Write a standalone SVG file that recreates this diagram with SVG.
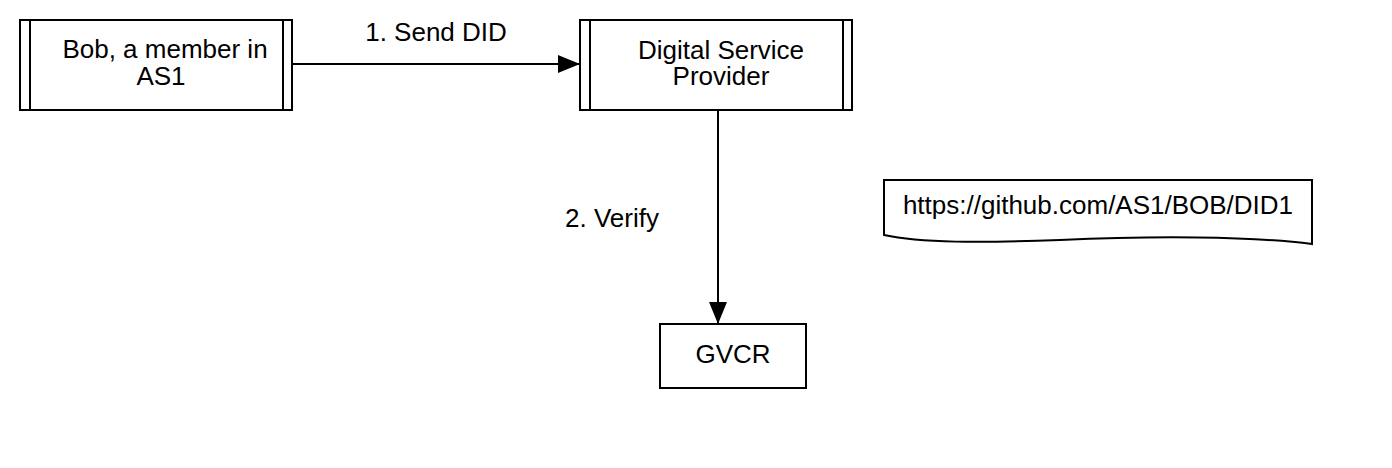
<svg xmlns="http://www.w3.org/2000/svg" width="1392" height="468" viewBox="0 0 1392 468">
<style>
.box{fill:#fff;stroke:#000;stroke-width:2}
.ln{fill:none;stroke:#000;stroke-width:2}
text{font-family:"Liberation Sans",Arial,sans-serif;font-size:26px;fill:#000}
.c{text-anchor:middle}
</style>
<defs>
<marker id="arr" markerWidth="22" markerHeight="20" refX="22" refY="10" orient="auto" markerUnits="userSpaceOnUse">
<path d="M0,1 L22,10 L0,19 Z" fill="#000"/>
</marker>
</defs>
<rect width="1392" height="468" fill="#fff"/>
<g id="connectors">
<line class="ln" x1="292" y1="64" x2="580" y2="64" marker-end="url(#arr)"/>
<text class="c" x="436" y="41">1. Send DID</text>
<line class="ln" x1="718" y1="110" x2="718" y2="324" marker-end="url(#arr)"/>
<text class="c" x="612" y="227">2. Verify</text>
</g>
<g id="bob">
<rect class="box" x="20" y="20" width="272" height="90"/>
<line class="ln" x1="30" y1="20" x2="30" y2="110"/>
<line class="ln" x1="283" y1="20" x2="283" y2="110"/>
<text class="c" x="165" y="58">Bob, a member in</text>
<text class="c" x="161" y="85">AS1</text>
</g>
<g id="dsp">
<rect class="box" x="580" y="20" width="272" height="90"/>
<line class="ln" x1="590" y1="20" x2="590" y2="110"/>
<line class="ln" x1="843" y1="20" x2="843" y2="110"/>
<text class="c" x="721" y="59">Digital Service</text>
<text class="c" x="721" y="85">Provider</text>
</g>
<g id="gvcr">
<rect class="box" x="660" y="324" width="146" height="64"/>
<text class="c" x="733" y="363">GVCR</text>
</g>
<g id="note">
<path class="box" d="M884,180 L1312,180 L1312,244 C1250,236 1150,236 1060,240 C980,243 920,243 884,235 Z"/>
<text class="c" x="1098" y="214">https://github.com/AS1/BOB/DID1</text>
</g>
</svg>
